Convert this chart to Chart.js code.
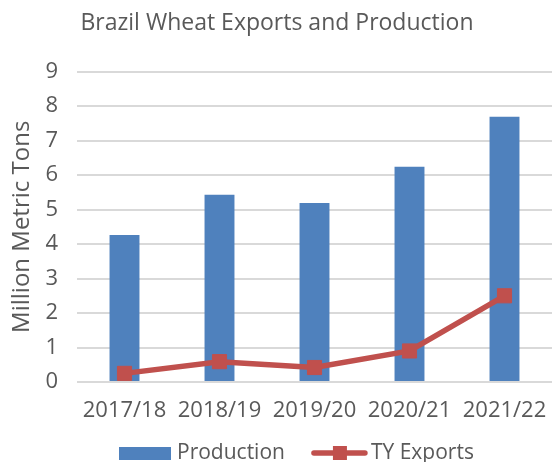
<!DOCTYPE html>
<html><head><meta charset="utf-8">
<script src="https://cdn.jsdelivr.net/npm/chart.js@4"></script>
<style>html,body{margin:0;padding:0;background:#fff}#wrap{width:552px;height:462px}</style>
</head><body><div id="wrap"><canvas id="c" width="552" height="462"></canvas></div>
<script>
const categories = ["2017/18","2018/19","2019/20","2020/21","2021/22"];
const production = [4.26, 5.43, 5.19, 6.24, 7.69];
const tyExports = [0.25, 0.59, 0.42, 0.90, 2.50];
const yTicks = [0,1,2,3,4,5,6,7,8,9];
const seriesNames = ["Production", "TY Exports"];

const BLUE = "#4f81bd", RED = "#c0504d", TXT = "#595959", GRID = "#d9d9d9";
const FONT = "'Open Sans', sans-serif";

const customLegend = {
  id: "customLegend",
  afterDraw(chart) {
    const ctx = chart.ctx;
    const cy = 453;
    ctx.save();
    ctx.font = "21px " + FONT;
    ctx.textBaseline = "middle";
    let x = 119;
    ctx.fillStyle = BLUE;
    ctx.fillRect(x, cy - 6, 52, 13);
    x += 52 + 6;
    ctx.fillStyle = TXT;
    ctx.fillText(seriesNames[0], x, cy);
    x += ctx.measureText(seriesNames[0]).width + 27;
    ctx.strokeStyle = RED; ctx.lineWidth = 5.5; ctx.lineCap = "round";
    ctx.beginPath(); ctx.moveTo(x + 2, cy); ctx.lineTo(x + 53, cy); ctx.stroke();
    ctx.fillStyle = RED; ctx.fillRect(x + 21, cy - 7, 14, 14);
    x += 55 + 4;
    ctx.fillStyle = TXT;
    ctx.fillText(seriesNames[1], x, cy);
    ctx.restore();
  }
};

new Chart(document.getElementById("c"), {
  data: {
    labels: categories,
    datasets: [
      {type:"bar", label: seriesNames[0], data: production, backgroundColor: BLUE, order: 2,
       barPercentage: 0.5, categoryPercentage: 0.63},
      {type:"line", label: seriesNames[1], data: tyExports, borderColor: RED, backgroundColor: RED,
       borderWidth: 5.5, pointStyle: "rect", pointRadius: 10, pointHoverRadius: 10, pointBorderWidth: 1,
       order: 1, tension: 0}
    ]
  },
  plugins: [customLegend],
  options: {
    responsive: false, animation: false, devicePixelRatio: 1,
    layout: {autoPadding: false, padding: {left: 0, right: -2, top: 0, bottom: 40}},
    plugins: {
      title: {display: true, text: "Brazil Wheat Exports and Production", color: TXT,
              font: {family: FONT, size: 23, weight: "normal"}, padding: {top: 10, bottom: 34}},
      legend: {display: false},
      tooltip: {enabled: false}
    },
    scales: {
      x: {grid: {display: false, drawTicks: true, tickLength: 16}, border: {display: false},
          afterFit: (s) => { s.height = 40; s.paddingLeft = 0; s.paddingRight = 0; },
          ticks: {color: TXT, font: {family: FONT, size: 22}, padding: 0, maxRotation: 0}},
      y: {min: 0, max: 9,
          afterBuildTicks: (s) => { s.ticks = yTicks.map(v => ({value: v})); },
          afterFit: (s) => { s.width = 77; },
          grid: {color: GRID, lineWidth: 2, drawTicks: false}, border: {display: false},
          ticks: {color: TXT, font: {family: FONT, size: 22}, padding: 19},
          title: {display: true, text: "Million Metric Tons", color: TXT, font: {family: FONT, size: 24},
                  padding: {top: 8, bottom: 0}}}
    }
  }
});
</script></body></html>
